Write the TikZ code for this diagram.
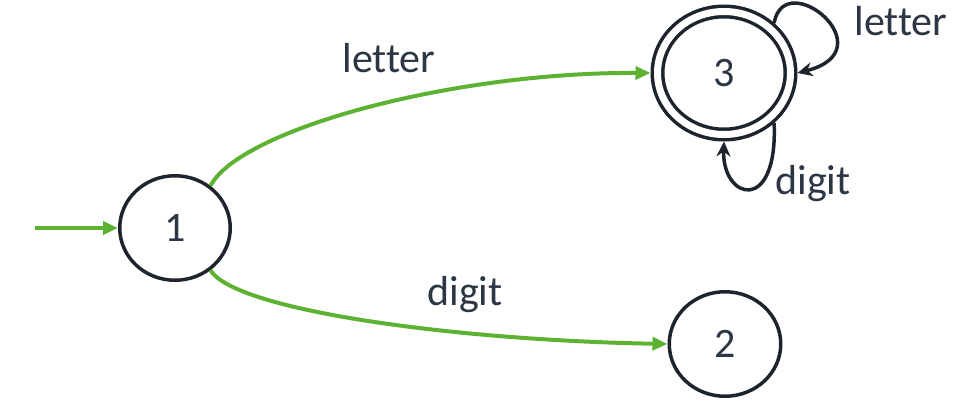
\documentclass[tikz,border=0pt]{standalone}
\usepackage{fontspec}
\setmainfont{Carlito}[Ligatures=NoCommon]
\usetikzlibrary{arrows.meta,shapes.geometric}
\definecolor{edgegreen}{RGB}{94,178,50}
\definecolor{ink}{RGB}{30,36,44}
\definecolor{txt}{RGB}{44,54,68}
\begin{document}
\begin{tikzpicture}[x=1pt,y=-1pt,
  state/.style={ellipse,draw=ink,line width=3.5pt,inner sep=0pt,font=\fontsize{42}{48}\selectfont,text=txt},
  lbl/.style={font=\fontsize{42}{48}\selectfont,text=txt,inner sep=0pt},
  garrow/.style={draw=edgegreen,line width=4pt,-{Triangle[length=15pt,width=13pt]}},
  barrow/.style={draw=ink,line width=3.5pt,-{Stealth[length=15pt,width=14pt]}}]
\useasboundingbox (0,0) rectangle (953,418);
\node[state,minimum width=110.5pt,minimum height=104.5pt] (n1) at (175,228) {1};
\node[state,minimum width=111.5pt,minimum height=104.5pt] (n2) at (725,344) {2};
\node[state,double,double distance=7pt,minimum width=133pt,minimum height=123pt,outer sep=7pt] (n3) at (724,73) {3};
\coordinate (init) at (35,228);
\draw[garrow] (init) -- (n1.west);
\draw[garrow] (n1.50) .. controls (240,130) and (450,72) .. (n3.west);
\draw[garrow] (n1.-50) .. controls (235,310) and (450,340) .. (n2.west);
\draw[barrow] (n3.45) .. controls (785,-35) and (888,50) .. (n3.0);
\draw[barrow] (n3.-45) .. controls (778,215) and (722,200) .. (n3.-90);
\node[lbl] (l13) at (389,58) {letter};
\node[lbl] (l12) at (465,295) {digit};
\node[lbl] (l33) at (901,21) {letter};
\node[lbl] (l33d) at (813,184) {digit};
\end{tikzpicture}
\end{document}
